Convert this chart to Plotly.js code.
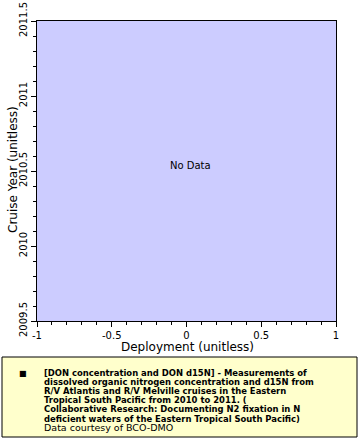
<!DOCTYPE html>
<html>
<head>
<meta charset="utf-8">
<script src="https://cdn.plot.ly/plotly-3.0.1.min.js"></script>
<style>
html,body{margin:0;padding:0;background:#fff;}
#chart{width:360px;height:440px;}
</style>
</head>
<body>
<div id="chart"></div>
<script>
// Data (the source dataset returned no values)
var deployment = [];
var cruiseYear = [];
var xTickVals = [-1, -0.5, 0, 0.5, 1];
var xTickText = ["-1", "-0.5", "0", "0.5", "1"];
var yTickVals = [2009.5, 2010, 2010.5, 2011, 2011.5];
var yTickText = ["2009.5", "2010", "2010.5", "2011", "2011.5"];
var xRange = [-1, 1];
var yRange = [2009.5, 2011.5];
var xTitle = "Deployment (unitless)";
var yTitle = "Cruise Year (unitless)";
var legendLines = [
  "[DON concentration and DON d15N] - Measurements of",
  "dissolved organic nitrogen concentration and d15N from",
  "R/V Atlantis and R/V Melville cruises in the Eastern",
  "Tropical South Pacific from 2010 to 2011. (",
  "Collaborative Research: Documenting N2 fixation in N",
  "deficient waters of the Eastern Tropical South Pacific)"
];
var creditLine = "Data courtesy of BCO-DMO";

var W = 360, H = 440;
var L = 37, R = 24, T = 21, B = 119;
var pw = W - L - R, ph = H - T - B;
function px(x){ return (x - L) / pw; }
function py(y){ return (H - B - y) / ph; }

var FONT = "DejaVu Sans, sans-serif";
var BFONT = "DejaVu Sans Condensed, DejaVu Sans, sans-serif";

var traces = [{
  x: deployment, y: cruiseYear, type: 'scatter', mode: 'markers',
  marker: {color: 'black', symbol: 'square', size: 6}, showlegend: false
}];

var annotations = [{
  xref: 'paper', yref: 'paper', x: px(190), y: py(166), xanchor: 'center', yanchor: 'middle',
  text: 'No Data', showarrow: false, font: {family: FONT, size: 10, color: '#000'}
}, {
  xref: 'paper', yref: 'paper', x: px(187), y: py(347), xanchor: 'center', yanchor: 'middle',
  text: xTitle, showarrow: false, font: {family: FONT, size: 12, color: '#000'}
}, {
  xref: 'paper', yref: 'paper', x: px(13), y: py(170), xanchor: 'center', yanchor: 'middle',
  text: yTitle, textangle: -90, showarrow: false, font: {family: FONT, size: 12, color: '#000'}
}, {
  xref: 'paper', yref: 'paper', x: px(22.5), y: py(373.5), xanchor: 'center', yanchor: 'middle',
  text: '■', showarrow: false, font: {family: FONT, size: 8, color: '#000'}
}];
var lineY0 = 372, lineStep = 9.2;
legendLines.forEach(function(t, i){
  annotations.push({
    xref: 'paper', yref: 'paper', x: px(42), y: py(lineY0 + i * lineStep),
    xanchor: 'left', yanchor: 'middle', text: '<b>' + t + '</b>', showarrow: false,
    font: {family: BFONT, size: 9.4, color: '#000'}
  });
});
annotations.push({
  xref: 'paper', yref: 'paper', x: px(42), y: py(lineY0 + 6 * lineStep),
  xanchor: 'left', yanchor: 'middle', text: creditLine, showarrow: false,
  font: {family: FONT, size: 9.5, color: '#000'}
});

var layout = {
  width: W, height: H,
  margin: {l: L, r: R, t: T, b: B, pad: 0},
  paper_bgcolor: '#ffffff',
  plot_bgcolor: '#ccccff',
  showlegend: false,
  font: {family: FONT, size: 10, color: '#000'},
  xaxis: {
    range: xRange, tickmode: 'array', tickvals: xTickVals, ticktext: xTickText,
    showgrid: false, zeroline: false, showline: true, linecolor: '#000', linewidth: 1, mirror: true,
    ticks: 'outside', ticklen: 5, tickcolor: '#000', tickfont: {family: FONT, size: 10},
    minor: {dtick: 0.1, ticks: 'outside', ticklen: 3, tickcolor: '#000', showgrid: false},
    automargin: false, fixedrange: true
  },
  yaxis: {
    range: yRange, tickmode: 'array', tickvals: yTickVals, ticktext: yTickText,
    showgrid: false, zeroline: false, showline: true, linecolor: '#000', linewidth: 1, mirror: true,
    ticks: 'outside', ticklen: 5, tickcolor: '#000', tickangle: -90, tickfont: {family: FONT, size: 10},
    minor: {dtick: 0.1, ticks: 'outside', ticklen: 3, tickcolor: '#000', showgrid: false},
    automargin: false, fixedrange: true
  },
  shapes: [{
    type: 'rect', xref: 'paper', yref: 'paper',
    x0: px(2), x1: px(357), y0: py(437), y1: py(357),
    fillcolor: '#ffffcc', line: {color: '#000', width: 1}, layer: 'below'
  }],
  annotations: annotations
};

Plotly.newPlot('chart', traces, layout, {displayModeBar: false, staticPlot: true});
</script>
</body>
</html>
